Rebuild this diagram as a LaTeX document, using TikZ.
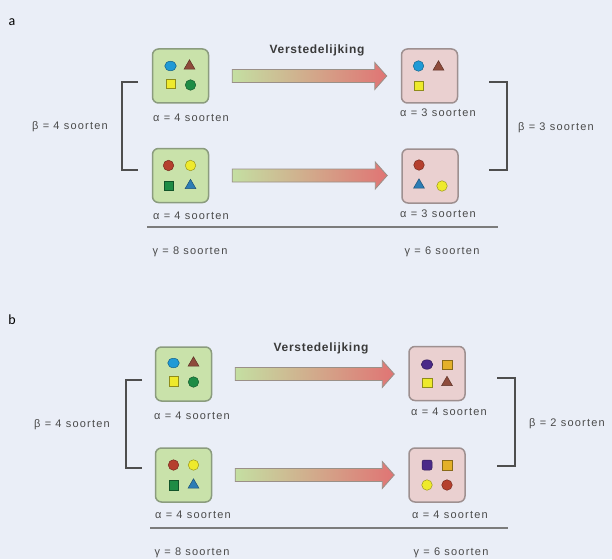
\documentclass[tikz,border=0pt]{standalone}
\usepackage{fontspec}
\usetikzlibrary{calc,shapes.geometric}

% label fonts
\newfontfamily\lblfamily[LetterSpace=11]{Liberation Sans}
\newfontfamily\ttlfamily[LetterSpace=6]{Liberation Sans}
\newfontfamily\pnlfamily{Carlito}
\newcommand\lblfont{\lblfamily\fontsize{11}{13}\selectfont}
\newcommand\ttlfont{\ttlfamily\bfseries\fontsize{12}{14}\selectfont}
\newcommand\pnlfont{\pnlfamily\fontsize{14}{16}\selectfont}

% palette
\definecolor{bg}{HTML}{EAEEF7}
\definecolor{txt}{HTML}{4A4A4A}
\definecolor{ttl}{HTML}{3A3A3A}
\definecolor{rule}{HTML}{7C7C7C}
\definecolor{brk}{HTML}{4E4E4E}
\definecolor{gfill}{HTML}{C9E2AA}
\definecolor{gline}{HTML}{8B9C7E}
\definecolor{pfill}{HTML}{EAD0D0}
\definecolor{pline}{HTML}{9E9090}
\definecolor{arrL}{HTML}{C4DFA2}
\definecolor{arrM}{HTML}{D9BC9C}
\definecolor{arrR}{HTML}{E07474}
\definecolor{arrD}{HTML}{9A9088}
\definecolor{cblue}{HTML}{1F9AD6}
\definecolor{cbrown}{HTML}{8E4B3B}
\definecolor{cyellow}{HTML}{EEEA2C}
\definecolor{cgreen}{HTML}{1E8C45}
\definecolor{cred}{HTML}{B5402E}
\definecolor{cteal}{HTML}{2C7DB5}
\definecolor{cpurple}{HTML}{4A2A88}
\definecolor{cmustard}{HTML}{E3B02A}

\tikzset{
  lbl/.style={font=\lblfont, text=txt, inner sep=0pt},
  ttlbl/.style={font=\ttlfont, text=ttl, inner sep=0pt},
  pnl/.style={font=\pnlfont, text=black, inner sep=0pt},
  habitat/.style={rectangle, rounded corners=6pt, line width=1.5pt,
    minimum width=56pt, minimum height=54pt, inner sep=0pt},
  greenbox/.style={habitat, fill=gfill, draw=gline},
  pinkbox/.style={habitat, fill=pfill, draw=pline},
  dotc/.style={circle, inner sep=0pt, minimum size=10.5pt, line width=0.5pt,
    draw=#1!65!black, fill=#1},
  ovalc/.style={ellipse, inner sep=0pt, minimum width=11.5pt, minimum height=9.5pt,
    line width=0.5pt, draw=#1!65!black, fill=#1},
  sqr/.style={rectangle, inner sep=0pt, minimum size=9.5pt, line width=0.5pt,
    draw=#1!60!black, fill=#1},
  rsqr/.style={rectangle, rounded corners=2pt, inner sep=0pt, minimum size=10pt,
    line width=0.5pt, draw=#1!65!black, fill=#1},
  tri/.style={regular polygon, regular polygon sides=3, inner sep=0pt,
    minimum size=12.5pt, line width=0.5pt, draw=#1!65!black, fill=#1},
  fatarrow/.style={draw=arrD, line width=0.8pt, left color=arrL,
    middle color=arrM, right color=arrR},
  bracket/.style={draw=brk, line width=1.5pt},
  baseline rule/.style={draw=rule, line width=2.4pt},
}

% broad shaded arrow from box #1 to box #2
\newcommand\fatarrowfrom[2]{%
  \path[fatarrow] let \p1=($(#1.east)+(23,0)$), \p2=($(#2.west)+(-14,0)$) in
    ({\x1},{\y1+6.5pt}) -- ({\x2-12pt},{\y1+6.5pt}) -- ({\x2-12pt},{\y1+13.5pt})
    -- ({\x2},{\y1}) -- ({\x2-12pt},{\y1-13.5pt}) -- ({\x2-12pt},{\y1-6.5pt})
    -- ({\x1},{\y1-6.5pt}) -- cycle;}

\begin{document}
\begin{tikzpicture}[x=1pt,y=-1pt]
  \fill[bg] (0,0) rectangle (612,559);
  \useasboundingbox (0,0) rectangle (612,559);

  % ---------------- panel a ----------------
  \node[pnl] (pa) at (12,22) {a};
  \node[ttlbl] (ta) at (317,50) {Verstedelijking};

  \node[greenbox] (A1) at (180.5,76) {};
  \node[pinkbox]  (A2) at (429.5,76) {};
  \node[greenbox] (A3) at (180.5,175.5) {};
  \node[pinkbox]  (A4) at (430,176) {};

  \fatarrowfrom{A1}{A2}
  \fatarrowfrom{A3}{A4}

  % species in the habitats
  \node[ovalc=cblue]  (A1s1) at ($(A1)+(-10,-10)$) {};
  \node[tri=cbrown]   (A1s2) at ($(A1)+(9,-10)$) {};
  \node[sqr=cyellow]  (A1s3) at ($(A1)+(-10,8)$) {};
  \node[dotc=cgreen]  (A1s4) at ($(A1)+(10,9)$) {};

  \node[dotc=cblue]   (A2s1) at ($(A2)+(-11,-10)$) {};
  \node[tri=cbrown]   (A2s2) at ($(A2)+(9,-9)$) {};
  \node[sqr=cyellow]  (A2s3) at ($(A2)+(-11,10)$) {};

  \node[dotc=cred]    (A3s1) at ($(A3)+(-12,-10)$) {};
  \node[dotc=cyellow] (A3s2) at ($(A3)+(10,-10)$) {};
  \node[sqr=cgreen]   (A3s3) at ($(A3)+(-12,10)$) {};
  \node[tri=cteal]    (A3s4) at ($(A3)+(10,10)$) {};

  \node[dotc=cred]    (A4s1) at ($(A4)+(-11,-11)$) {};
  \node[tri=cteal]    (A4s2) at ($(A4)+(-11,9)$) {};
  \node[dotc=cyellow] (A4s3) at ($(A4)+(12,10)$) {};

  \node[lbl] (A1l) at (191,118) {α = 4 soorten};
  \node[lbl] (A2l) at (438,113) {α = 3 soorten};
  \node[lbl] (A3l) at (191,216) {α = 4 soorten};
  \node[lbl] (A4l) at (438,214) {α = 3 soorten};

  \draw[bracket] (138,82) -- (122,82) -- (122,170) -- (138,170);
  \draw[bracket] (489,82) -- (507,82) -- (507,170) -- (489,170);
  \node[lbl] (Abl) at (70,127) {β = 4 soorten};
  \node[lbl] (Abr) at (556,128) {β = 3 soorten};

  \draw[baseline rule] (147,227) -- (498,227);
  \node[lbl] (Agl) at (190,252) {γ = 8 soorten};
  \node[lbl] (Agr) at (442,252) {γ = 6 soorten};

  % ---------------- panel b ----------------
  \node[pnl] (pb) at (12,320) {b};
  \node[ttlbl] (tb) at (321,348) {Verstedelijking};

  \node[greenbox] (B1) at (183.5,374) {};
  \node[pinkbox]  (B2) at (437,373.5) {};
  \node[greenbox] (B3) at (183.5,475) {};
  \node[pinkbox]  (B4) at (437,475) {};

  \fatarrowfrom{B1}{B2}
  \fatarrowfrom{B3}{B4}

  \node[ovalc=cblue]  (B1s1) at ($(B1)+(-10,-11)$) {};
  \node[tri=cbrown]   (B1s2) at ($(B1)+(10,-11)$) {};
  \node[sqr=cyellow]  (B1s3) at ($(B1)+(-10,7)$) {};
  \node[dotc=cgreen]  (B1s4) at ($(B1)+(10,8)$) {};

  \node[ovalc=cpurple] (B2s1) at ($(B2)+(-10,-9)$) {};
  \node[sqr=cmustard]  (B2s2) at ($(B2)+(10,-9)$) {};
  \node[sqr=cyellow]   (B2s3) at ($(B2)+(-10,9)$) {};
  \node[tri=cbrown]    (B2s4) at ($(B2)+(10,9)$) {};

  \node[dotc=cred]    (B3s1) at ($(B3)+(-10,-10)$) {};
  \node[dotc=cyellow] (B3s2) at ($(B3)+(10,-10)$) {};
  \node[sqr=cgreen]   (B3s3) at ($(B3)+(-10,10)$) {};
  \node[tri=cteal]    (B3s4) at ($(B3)+(10,10)$) {};

  \node[rsqr=cpurple]  (B4s1) at ($(B4)+(-10,-10)$) {};
  \node[sqr=cmustard]  (B4s2) at ($(B4)+(10,-10)$) {};
  \node[dotc=cyellow]  (B4s3) at ($(B4)+(-10,10)$) {};
  \node[dotc=cred]     (B4s4) at ($(B4)+(10,10)$) {};

  \node[lbl] (B1l) at (192,416) {α = 4 soorten};
  \node[lbl] (B2l) at (449,412) {α = 4 soorten};
  \node[lbl] (B3l) at (193,515) {α = 4 soorten};
  \node[lbl] (B4l) at (450,515) {α = 4 soorten};

  \draw[bracket] (142,380) -- (126,380) -- (126,468) -- (142,468);
  \draw[bracket] (497,378) -- (515,378) -- (515,466) -- (497,466);
  \node[lbl] (Bbl) at (72,425) {β = 4 soorten};
  \node[lbl] (Bbr) at (567,424) {β = 2 soorten};

  \draw[baseline rule] (150,528) -- (508,528);
  \node[lbl] (Bgl) at (192,553) {γ = 8 soorten};
  \node[lbl] (Bgr) at (451,553) {γ = 6 soorten};
\end{tikzpicture}
\end{document}
